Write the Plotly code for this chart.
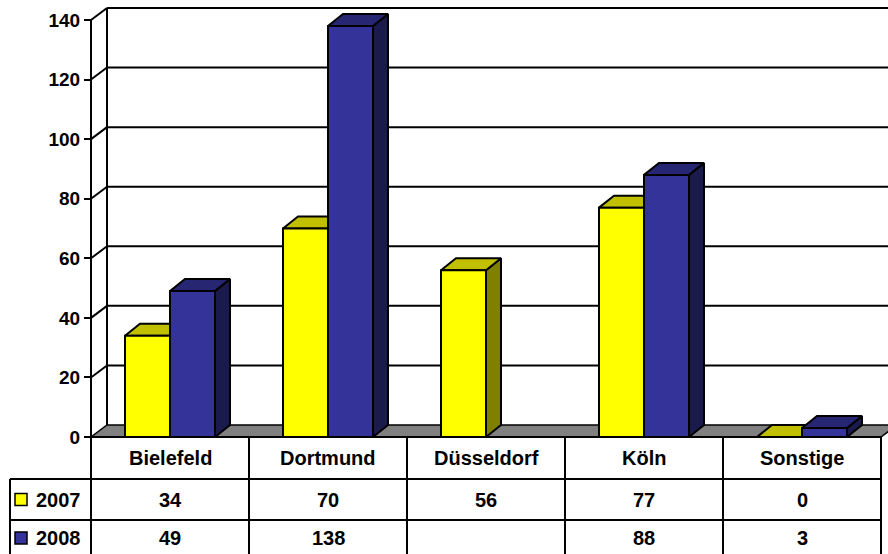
import plotly.graph_objects as go

# ---- data ----
categories = ["Bielefeld", "Dortmund", "Düsseldorf", "Köln", "Sonstige"]
series_names = ["2007", "2008"]
values_2007 = [34, 70, 56, 77, 0]
values_2008 = [49, 138, None, 88, 3]
tick_values = [0, 20, 40, 60, 80, 100, 120, 140]

# ---- geometry (pixel based, converted to data units) ----
W, H = 888, 554
X0PX = 91          # front y-axis pixel
Y0PX = 437         # value 0 pixel
YTOPPX = 20        # value 140 pixel
CATPX = 158        # pixels per category
K = (Y0PX - YTOPPX) / 140.0  # px per value unit

def px_x(p):  # pixel -> x data
    return (p - X0PX) / CATPX

def px_y(p):  # pixel -> y data
    return (Y0PX - p) / K

XR = [px_x(0), px_x(W)]
YR = [px_y(H), px_y(0)]
DX, DY = 16 / CATPX, 12 / K       # wall depth
BDX, BDY = 15 / CATPX, 12 / K     # bar depth

colors = {
    "2007": ("#FFFF00", "#C0C000", "#808000"),
    "2008": ("#333399", "#262673", "#1A1A4D"),
}
offsets = {"2007": 34 / CATPX, "2008": 79 / CATPX}
BW = 45 / CATPX

fig = go.Figure()

def poly(xs, ys, fill):
    fig.add_trace(go.Scatter(
        x=xs + [xs[0]], y=ys + [ys[0]], mode="lines", fill="toself",
        fillcolor=fill, line=dict(color="black", width=2),
        hoverinfo="skip", showlegend=False))

for i, cat in enumerate(categories):
    for name, vals in (("2007", values_2007), ("2008", values_2008)):
        h = vals[i]
        if h is None:
            continue
        front, top, side = colors[name]
        x0 = i + offsets[name]
        x1 = x0 + BW
        poly([x1, x1 + BDX, x1 + BDX, x1], [0, BDY, h + BDY, h], side)
        poly([x0, x1, x1 + BDX, x0 + BDX], [h, h, h + BDY, h + BDY], top)
        poly([x0, x1, x1, x0], [0, 0, h, h], front)

shapes = []
line_k = dict(color="black", width=2)
for v in tick_values:
    if v > 0:
        shapes.append(dict(type="line", xref="x", yref="y", x0=DX, x1=XR[1] + 1,
                           y0=v + DY, y1=v + DY, line=line_k, layer="below"))
        shapes.append(dict(type="line", xref="x", yref="y", x0=0, x1=DX,
                           y0=v, y1=v + DY, line=line_k, layer="below"))
shapes.append(dict(type="line", xref="x", yref="y", x0=DX, x1=DX, y0=DY,
                   y1=max(tick_values) + DY, line=line_k, layer="below"))
n = len(categories)
shapes.append(dict(type="path", xref="x", yref="y",
                   path=f"M0,0 L{n},0 L{n + DX},{DY} L{DX},{DY} Z",
                   fillcolor="#808080", line=dict(color="black", width=1.5), layer="below"))

# table
row_px = [437, 479, 520, H + 2]
yrows = [px_y(p) for p in row_px]
left_x = px_x(10)
shapes.append(dict(type="line", xref="x", yref="y", x0=0, x1=0,
                   y0=max(tick_values), y1=YR[0] - 1, line=line_k))
shapes.append(dict(type="line", xref="x", yref="y", x0=0, x1=n,
                   y0=0, y1=0, line=line_k))
for yy in yrows[1:3]:
    shapes.append(dict(type="line", xref="x", yref="y", x0=left_x, x1=n,
                       y0=yy, y1=yy, line=line_k))
for i in range(1, n + 1):
    shapes.append(dict(type="line", xref="x", yref="y", x0=i, x1=i,
                       y0=0, y1=YR[0] - 1, line=line_k))
shapes.append(dict(type="line", xref="x", yref="y", x0=left_x, x1=left_x,
                   y0=yrows[1], y1=YR[0] - 1, line=line_k))

for r, name in enumerate(series_names):
    yc = (yrows[r + 1] + yrows[r + 2]) / 2
    hk = 6 / K
    shapes.append(dict(type="rect", xref="x", yref="y",
                       x0=px_x(15), x1=px_x(27), y0=yc - hk, y1=yc + hk,
                       fillcolor=colors[name][0], line=dict(color="black", width=1.5)))

fontb = dict(family="Liberation Sans, Arial, sans-serif", size=20, color="black", weight="bold")
fontt = dict(fontb, size=19)
annotations = []
yc_head = (yrows[0] + yrows[1]) / 2
for i, cat in enumerate(categories):
    annotations.append(dict(x=i + 0.5, y=yc_head, xref="x", yref="y", text=cat,
                            showarrow=False, font=fontb))
for r, (name, vals) in enumerate((("2007", values_2007), ("2008", values_2008))):
    yc = (yrows[r + 1] + yrows[r + 2]) / 2
    annotations.append(dict(x=px_x(34), y=yc, xref="x", yref="y", text=name,
                            showarrow=False, font=fontb, xanchor="left"))
    for i, v in enumerate(vals):
        if v is None:
            continue
        annotations.append(dict(x=i + 0.5, y=yc, xref="x", yref="y", text=str(v),
                                showarrow=False, font=fontb))

fig.update_layout(
    width=W, height=H, margin=dict(l=0, r=0, t=0, b=0),
    paper_bgcolor="white", plot_bgcolor="white",
    xaxis=dict(range=XR, visible=False, fixedrange=True),
    yaxis=dict(range=YR, anchor="free", position=X0PX / W, tickvals=tick_values,
               ticks="outside", ticklen=7, tickwidth=2, tickcolor="black",
               showgrid=False, zeroline=False, showline=False,
               tickfont=fontt, fixedrange=True),
    shapes=shapes, annotations=annotations, showlegend=False,
)

fig.write_html("out.html")
